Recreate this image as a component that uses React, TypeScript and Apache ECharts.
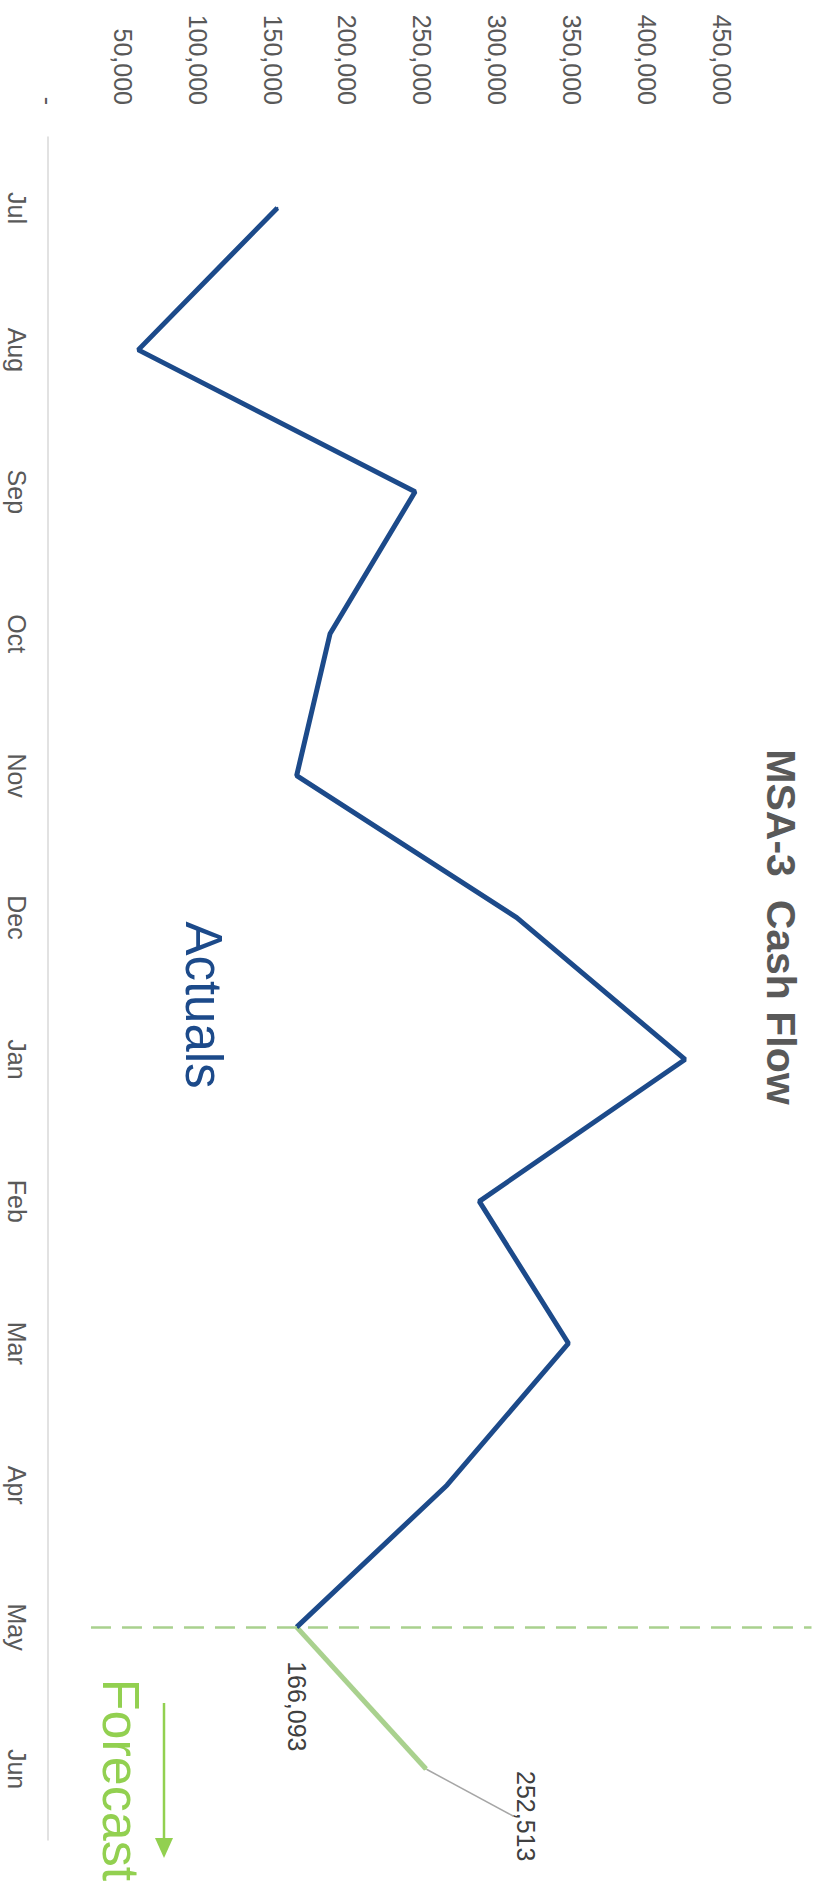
import React, { useEffect, useRef } from "react";
import * as echarts from "echarts";

// ---- data ----
const months = ["Jul", "Aug", "Sep", "Oct", "Nov", "Dec", "Jan", "Feb", "Mar", "Apr", "May", "Jun"];
const actuals: (number | null)[] = [153200, 60300, 245200, 188400, 166100, 313100, 425500, 288100, 347600, 266500, 166093, null];
const forecast: (number | null)[] = [null, null, null, null, null, null, null, null, null, null, 166093, 252513];
const valueTicks = [0, 50000, 100000, 150000, 200000, 250000, 300000, 350000, 400000, 450000];
const axisMax = 510000;
const separatorFrom = 28700;
const separatorTo = 510000;
const separatorMonth = "May";

const FONT = '"Liberation Sans", Arial, Helvetica, sans-serif';
const BLUE = "#1C4A8A";
const LIGHT_GREEN = "#A9D18E";
const GREEN = "#92D050";
const GREY = "#595959";

const W = 1897;
const H = 817;

export default function App() {
  const ref = useRef<HTMLDivElement>(null);

  useEffect(() => {
    if (!ref.current) return;
    const chart = echarts.init(ref.current, null, { renderer: "svg", width: W, height: H });
    const lastActual = actuals.length - 2;
    const option: any = {
      animation: false,
      backgroundColor: "#ffffff",
      textStyle: { fontFamily: FONT },
      grid: { left: 137, right: 57, top: 5.5, bottom: 48, containLabel: false },
      xAxis: {
        type: "category",
        data: months,
        boundaryGap: true,
        axisLine: { show: true, lineStyle: { color: "#D9D9D9", width: 1.5 } },
        axisTick: { show: false },
        axisLabel: { color: GREY, fontSize: 25, margin: 19, fontFamily: FONT },
        splitLine: { show: false },
      },
      yAxis: {
        type: "value",
        min: 0,
        max: axisMax,
        interval: 50000,
        axisLine: { show: false },
        axisTick: { show: false },
        splitLine: { show: false },
        axisLabel: {
          color: GREY,
          fontSize: 25,
          margin: 32,
          fontFamily: FONT,
          formatter: (v: number) => {
            if (valueTicks.indexOf(v) < 0) return "";
            return v === 0 ? "-" : v.toLocaleString("en-US");
          },
        },
      },
      series: [
        {
          name: "Actuals",
          type: "line",
          data: actuals.map((v, i) =>
            i === lastActual ? { value: v, label: { show: true } } : v
          ),
          showSymbol: true,
          symbol: "circle",
          symbolSize: 2,
          itemStyle: { color: BLUE },
          lineStyle: { color: BLUE, width: 5 },
          label: {
            show: false,
            position: "right",
            distance: 33,
            color: "#404040",
            fontSize: 25,
            fontFamily: FONT,
            formatter: (p: any) => Number(p.value).toLocaleString("en-US"),
          },
          z: 3,
        },
        {
          name: "Forecast",
          type: "line",
          data: forecast.map((v, i) =>
            i === forecast.length - 1 ? { value: v, label: { show: true } } : v
          ),
          showSymbol: true,
          symbol: "circle",
          symbolSize: 2,
          itemStyle: { color: LIGHT_GREEN },
          lineStyle: { color: LIGHT_GREEN, width: 5 },
          label: {
            show: false,
            position: "right",
            distance: 0,
            color: "#404040",
            fontSize: 25,
            fontFamily: FONT,
            formatter: (p: any) => Number(p.value).toLocaleString("en-US"),
          },
          labelLayout: { dx: 1, dy: -100 },
          labelLine: { show: true, length2: 0, lineStyle: { color: "#A6A6A6", width: 1.5 } },
          markLine: {
            silent: true,
            symbol: ["none", "none"],
            label: { show: false },
            lineStyle: { color: LIGHT_GREEN, width: 2.5, type: [20, 11] },
            data: [[{ coord: [separatorMonth, separatorFrom] }, { coord: [separatorMonth, separatorTo] }]],
          },
          z: 2,
        },
      ],
      graphic: [
        {
          type: "text",
          x: 927,
          y: 36,
          style: {
            text: "MSA-3  Cash Flow",
            fill: GREY,
            fontSize: 41,
            fontWeight: "bold",
            fontFamily: FONT,
            align: "center",
            verticalAlign: "middle",
            textAlign: "center",
            textVerticalAlign: "middle",
          },
        },
        {
          type: "text",
          x: 1005,
          y: 614,
          style: {
            text: "Actuals",
            fill: BLUE,
            fontSize: 51,
            fontFamily: FONT,
            align: "center",
            verticalAlign: "middle",
            textAlign: "center",
            textVerticalAlign: "middle",
          },
        },
        {
          type: "text",
          x: 1780,
          y: 696,
          style: {
            text: "Forecast",
            fill: GREEN,
            fontSize: 52,
            fontFamily: FONT,
            align: "center",
            verticalAlign: "middle",
            textAlign: "center",
            textVerticalAlign: "middle",
          },
        },
        {
          type: "line",
          shape: { x1: 1703, y1: 653, x2: 1842, y2: 653 },
          style: { stroke: GREEN, lineWidth: 2.5 },
        },
        {
          type: "polygon",
          shape: { points: [[1838, 644], [1838, 662], [1858, 653]] },
          style: { fill: GREEN },
        },
      ],
    };
    chart.setOption(option);
    return () => chart.dispose();
  }, []);

  return (
    <div
      style={{
        position: "absolute",
        left: 0,
        top: 0,
        width: 817,
        height: 1897,
        overflow: "hidden",
        background: "#ffffff",
      }}
    >
      <div
        ref={ref}
        style={{
          position: "absolute",
          left: 0,
          top: 0,
          width: W,
          height: H,
          transformOrigin: "0 0",
          transform: "translateX(817px) rotate(90deg)",
        }}
      />
    </div>
  );
}
